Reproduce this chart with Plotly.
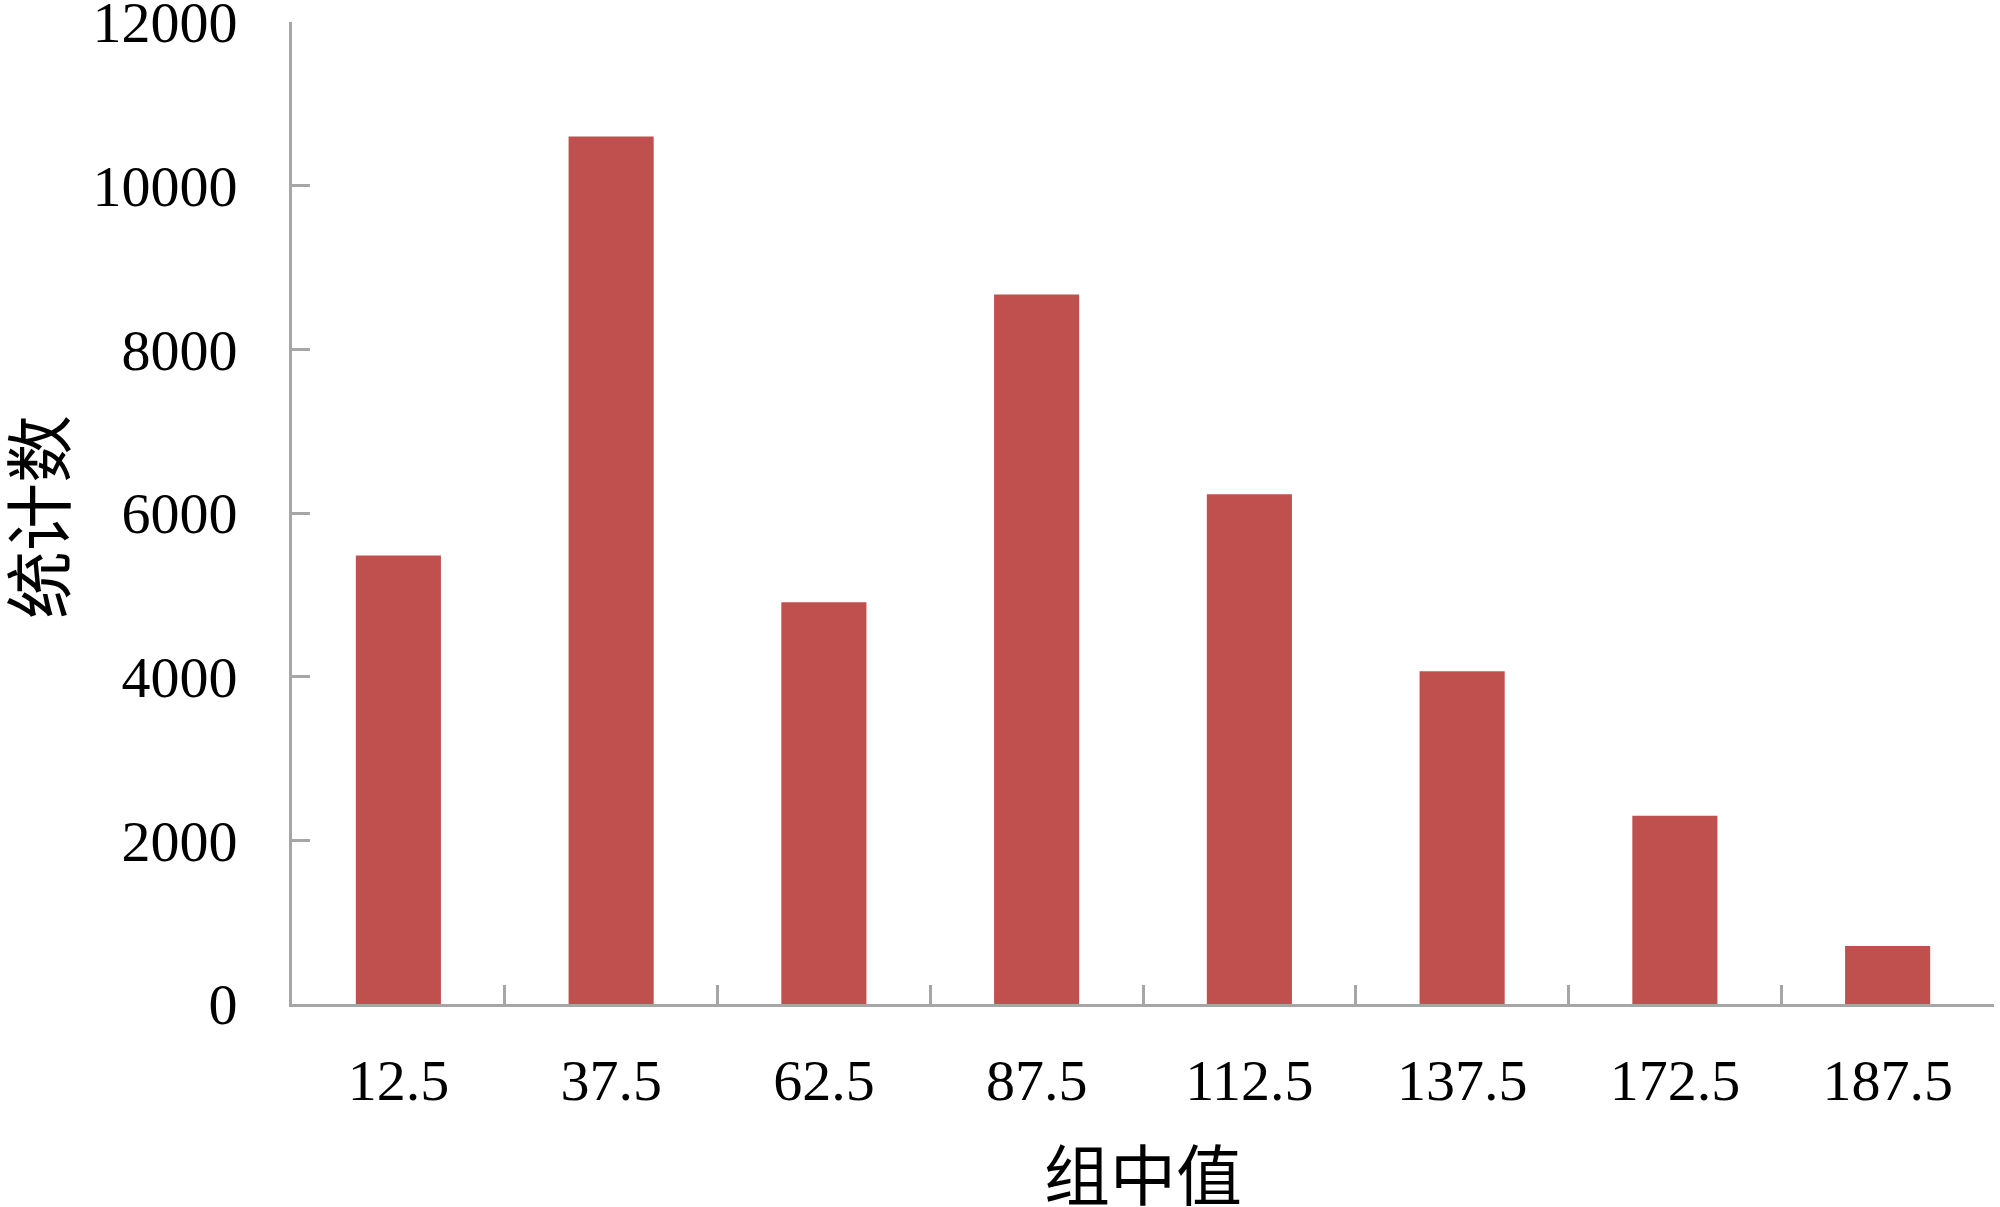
import plotly.graph_objects as go

categories = ["12.5", "37.5", "62.5", "87.5", "112.5", "137.5", "172.5", "187.5"]
counts = [5480, 10600, 4910, 8670, 6230, 4065, 2300, 710]
y_ticks = [0, 2000, 4000, 6000, 8000, 10000, 12000]
y_tick_labels = [str(v) for v in y_ticks]
x_title = "组中值"
y_title = "统计数"

AXIS_GREY = "#A6A6A6"
BAR_RED = "#C0504D"
SERIF = "Liberation Serif, Times New Roman, serif"
CJK = "Noto Sans CJK SC"

fig = go.Figure(
    go.Bar(
        x=categories,
        y=counts,
        marker=dict(color=BAR_RED, line=dict(width=0)),
    )
)

fig.update_xaxes(
    type="category",
    showline=True,
    linecolor=AXIS_GREY,
    linewidth=3,
    ticks="inside",
    tickson="boundaries",
    ticklen=19,
    tickwidth=3,
    tickcolor=AXIS_GREY,
    showgrid=False,
    tickfont=dict(family=SERIF, size=58, color="black"),
    ticklabelstandoff=23,
)
fig.update_yaxes(
    range=[0, 12000],
    tickvals=y_ticks,
    ticktext=y_tick_labels,
    ticklabeloverflow="allow",
    showline=True,
    linecolor=AXIS_GREY,
    linewidth=3,
    ticks="inside",
    ticklen=18,
    tickwidth=3,
    tickcolor=AXIS_GREY,
    showgrid=False,
    zeroline=False,
    tickfont=dict(family=SERIF, size=58, color="black"),
    ticklabelstandoff=40,
)

# axis titles as annotations so the margins don't squeeze them
fig.add_annotation(
    text=x_title, xref="paper", yref="paper", x=0.5, y=-0.170,
    xanchor="center", yanchor="middle", showarrow=False,
    font=dict(family=CJK, size=66, color="black"),
)
fig.add_annotation(
    text=y_title, xref="paper", yref="paper", x=-0.1504, y=0.496,
    xanchor="center", yanchor="middle", textangle=-90, showarrow=False,
    font=dict(family=CJK, size=68, color="black"),
)

fig.update_layout(
    width=2000,
    height=1207,
    bargap=0.6,
    showlegend=False,
    paper_bgcolor="white",
    plot_bgcolor="white",
    margin=dict(l=292, r=6, t=22, b=203, autoexpand=False),
)

# drop the page's default body margin so the figure sits at the window corner
fig.write_html(
    "out.html",
    config={"displayModeBar": False},
    post_script="document.body.style.margin='0';",
)
